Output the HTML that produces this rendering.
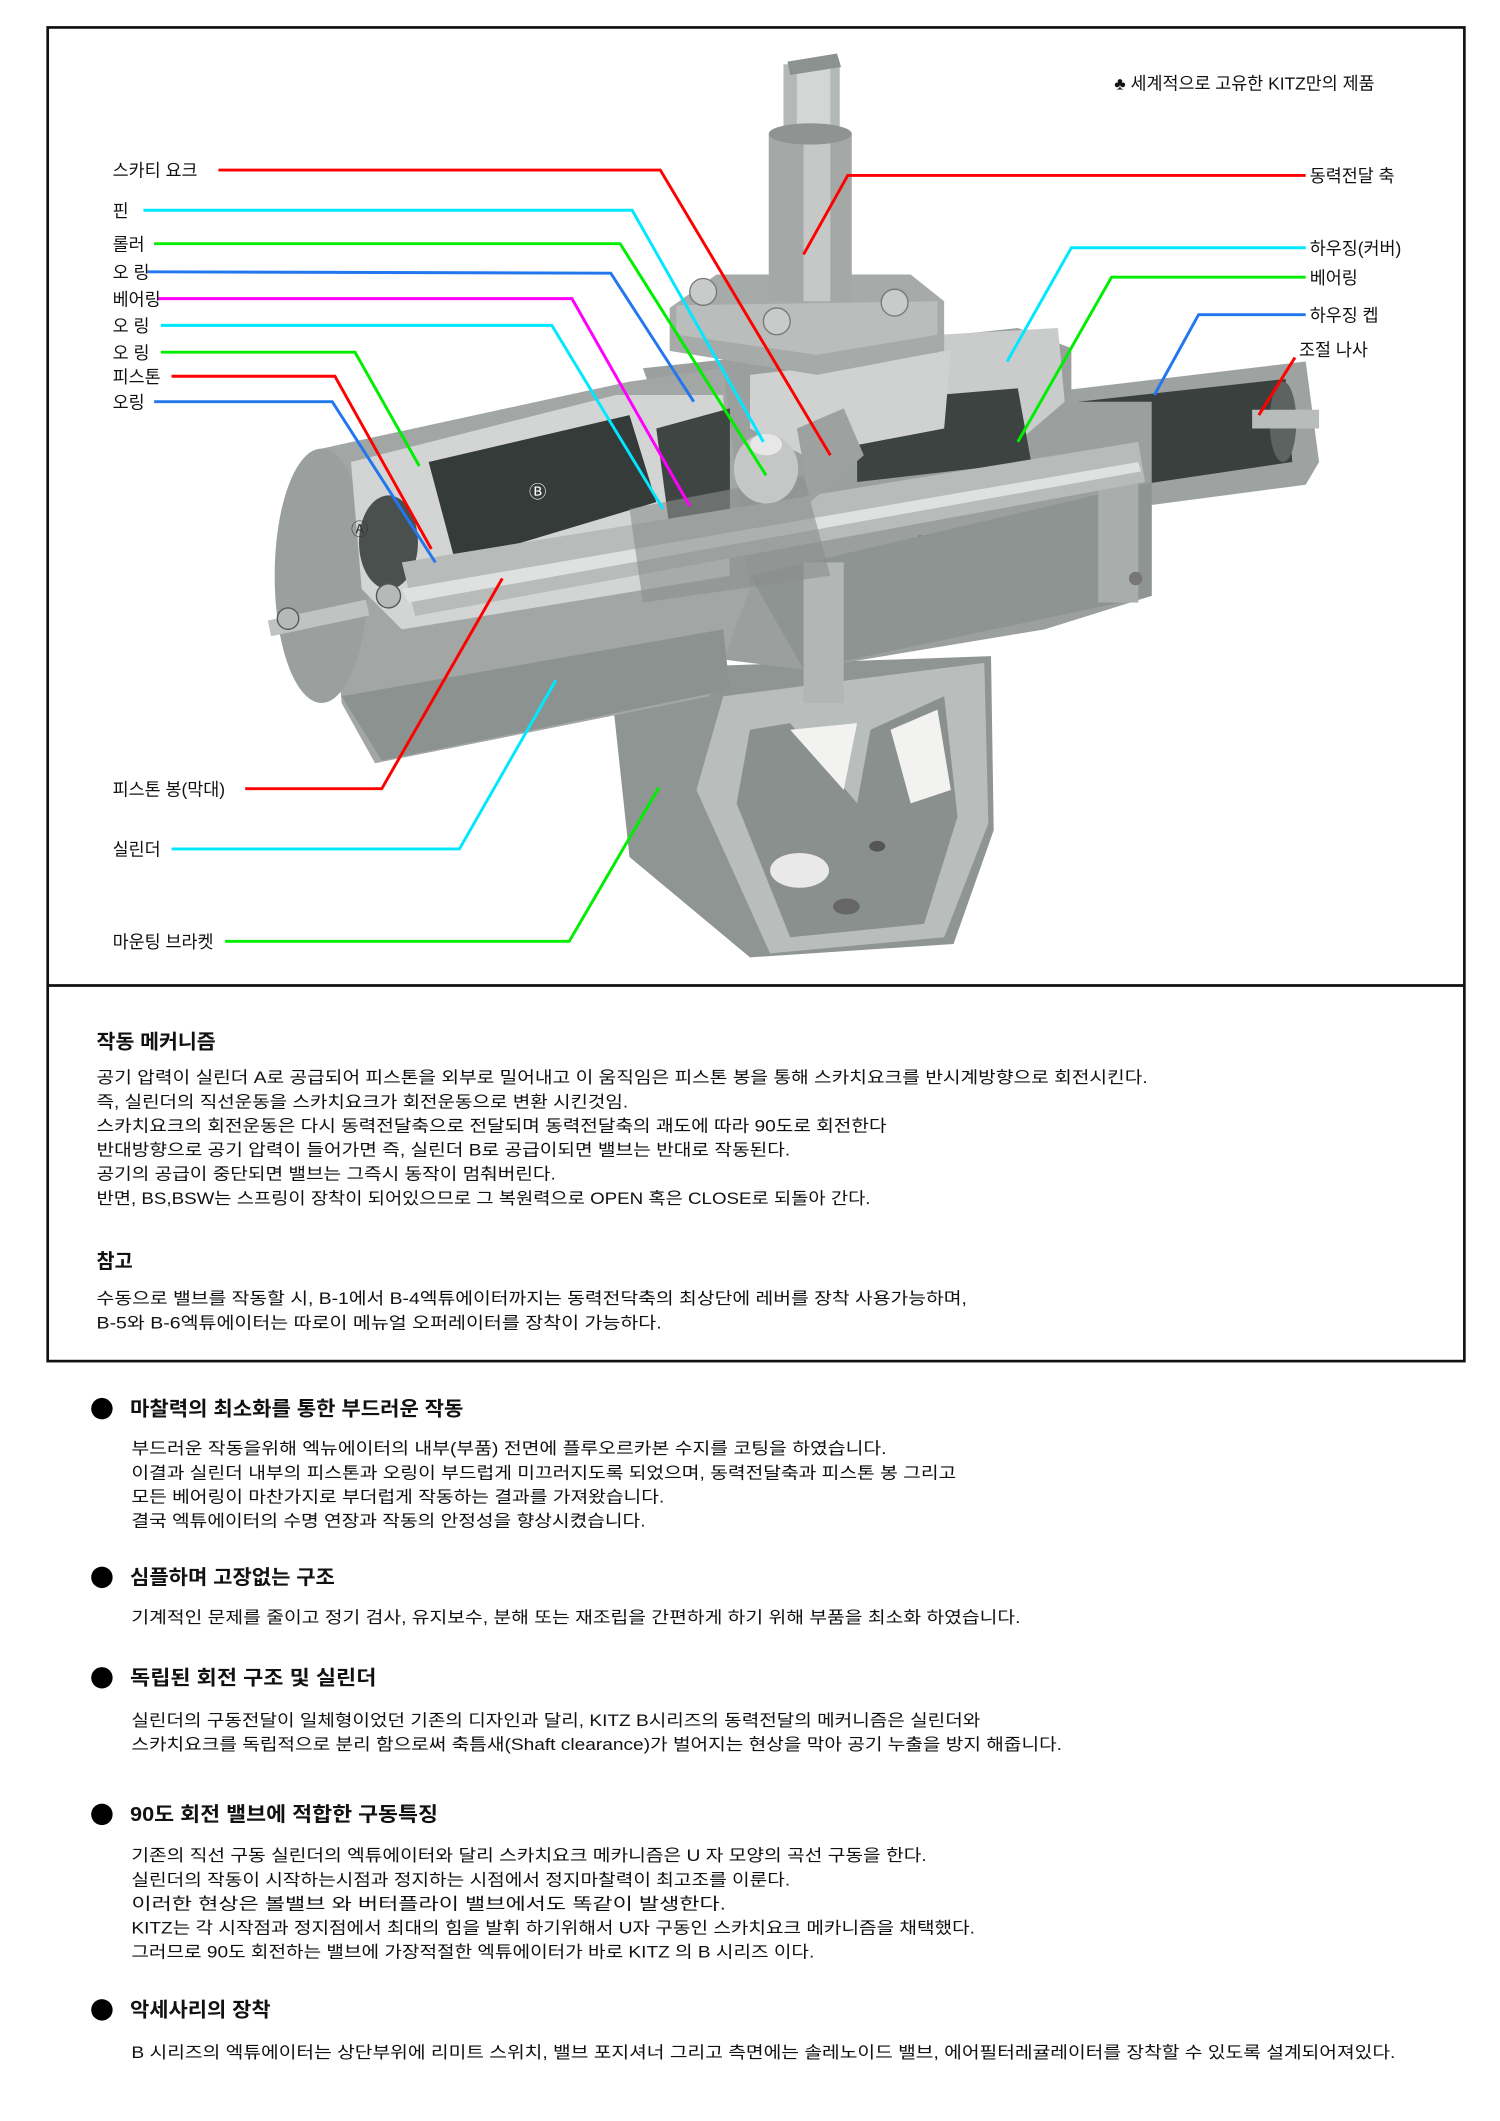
<!DOCTYPE html>
<html><head><meta charset="utf-8"><style>
html,body{margin:0;padding:0;background:#fff;}
svg{display:block;}
text{font-family:"Liberation Sans","Noto Sans CJK KR",sans-serif;fill:#111;}
.l{font-size:13px;}
.b{font-size:12.5px;}
.h{font-size:15px;font-weight:bold;}
.c line,.c polyline{fill:none;stroke-width:2.2;}
</style></head><body>
<svg width="1500" height="2121" viewBox="0 0 1120 1584" xmlns="http://www.w3.org/2000/svg">
<rect x="0" y="0" width="1120" height="1584" fill="#fff"/>
<rect x="35.5" y="20.5" width="1058" height="996" fill="none" stroke="#111" stroke-width="2"/>
<line x1="35" y1="736" x2="1094" y2="736" stroke="#111" stroke-width="2"/>

<g>
<!-- bracket -->
<polygon points="455,500 740,490 742,620 712,705 560,715 470,640" fill="#8f9593"/>
<polygon points="540,520 735,495 738,615 705,700 575,712 520,590" fill="#b9bdbb"/>
<polygon points="560,545 590,540 640,600 650,545 705,520 715,610 690,690 590,700 550,600" fill="#8a908e"/>
<polygon points="590,545 640,540 630,590" fill="#f2f2f0"/>
<polygon points="665,545 700,530 710,590 680,600" fill="#f2f2f0"/>
<ellipse cx="597" cy="650" rx="22" ry="13" fill="#e8e9e8"/>
<ellipse cx="655" cy="632" rx="6" ry="4" fill="#555"/>
<ellipse cx="632" cy="677" rx="10" ry="6" fill="#666"/>
<!-- right small cylinder -->
<polygon points="790,292 975,270 985,345 975,362 800,385" fill="#9ea3a1"/>
<polygon points="805,300 960,283 965,345 810,368" fill="#3a403e"/>
<ellipse cx="958" cy="315" rx="10" ry="30" fill="#5d6361"/>
<rect x="935" y="306" width="50" height="14" fill="#b8bcba"/>
<!-- central housing -->
<polygon points="480,275 760,245 800,260 800,300 860,300 860,445 780,470 600,500 520,490 500,330" fill="#9ba09e"/>
<polygon points="700,250 790,245 795,300 760,330 700,320" fill="#c9cccb"/>
<polygon points="640,300 760,290 770,345 640,360" fill="#3d4341"/>
<polygon points="560,280 710,262 705,320 600,340 560,320" fill="#cfd2d1"/>
<rect x="686" y="400" width="95" height="35" fill="#474d4b"/>
<polygon points="560,430 860,360 860,445 600,500" fill="#8e9492"/>
<rect x="600" y="420" width="30" height="105" fill="#b2b6b4"/>
<rect x="820" y="360" width="30" height="90" fill="#a9adab"/>
<!-- top cap + shaft -->
<polygon points="500,230 535,205 680,205 705,225 705,262 610,280 500,262" fill="#a6aaa8"/>
<polygon points="505,228 700,225 700,250 610,265 505,250" fill="#b9bdbb"/>
<rect x="574" y="100" width="62" height="125" fill="#a4a8a6"/>
<rect x="600" y="100" width="20" height="125" fill="#c5c8c7"/>
<rect x="585" y="48" width="42" height="58" fill="#b4b8b6"/>
<rect x="595" y="48" width="25" height="55" fill="#d4d6d5"/>
<polygon points="588,46 625,40 628,50 590,56" fill="#8c9290"/>
<ellipse cx="605" cy="100" rx="31" ry="8" fill="#8f9492"/>
<circle cx="525" cy="218" r="10" fill="#c8cbca" stroke="#777"/>
<circle cx="668" cy="226" r="10" fill="#c8cbca" stroke="#777"/>
<circle cx="580" cy="240" r="10" fill="#c8cbca" stroke="#777"/>
<!-- main cylinder -->
<polygon points="240,335 470,285 540,275 560,440 530,520 280,570 255,525" fill="#a2a7a5"/>
<polygon points="255,520 540,470 545,515 285,568" fill="#8c9290"/>
<ellipse cx="240" cy="430" rx="35" ry="95" fill="#9ba09e"/>
<polygon points="262,345 460,295 540,295 545,430 300,470 270,440" fill="#d2d5d4"/>
<polygon points="320,345 470,310 490,375 340,420" fill="#353b39"/>
<polygon points="490,320 545,305 545,400 500,395" fill="#3f4543"/>
<ellipse cx="290" cy="405" rx="22" ry="35" fill="#4a504e"/>
<polygon points="300,420 850,330 855,360 310,460" fill="#b7bbb9"/>
<polygon points="300,440 850,345 852,352 305,450" fill="#dfe1e0"/>
<polygon points="470,380 600,355 620,430 480,450" fill="#8a908e" opacity="0.6"/>
<ellipse cx="572" cy="350" rx="24" ry="26" fill="#c4c7c6"/>
<ellipse cx="572" cy="332" rx="12" ry="8" fill="#e6e7e6"/>
<polygon points="595,320 630,305 645,340 605,375" fill="#9da2a0"/>
<rect x="200" y="455" width="75" height="12" fill="#c0c3c2" transform="rotate(-12 240 460)"/>
<circle cx="215" cy="462" r="8" fill="#b5b9b7" stroke="#555"/>
<circle cx="290" cy="445" r="9" fill="#b5b9b7" stroke="#555"/>
<circle cx="848" cy="432" r="5" fill="#777"/>
<text x="395" y="372" style="font-size:13px;fill:#fff">Ⓑ</text>
<text x="262" y="400" style="font-size:13px;fill:#333">Ⓐ</text>
</g>

<g class="c">
<polyline stroke="#ff0000" points="163,127 493,127 620,340"/>
<polyline stroke="#00e8ff" points="107,157 472,157 570,330"/>
<polyline stroke="#00ee00" points="115,182 463,182 572,355"/>
<polyline stroke="#2277ee" points="110,203 456,204 518,300"/>
<polyline stroke="#ff00ff" points="118,223 427,223 515,378"/>
<polyline stroke="#00e8ff" points="120,243 412,243 495,380"/>
<polyline stroke="#00ee00" points="120,263 265,263 313,348"/>
<polyline stroke="#ff0000" points="128,281 250,281 322,410"/>
<polyline stroke="#2277ee" points="115,300 248,300 325,420"/>
<polyline stroke="#ff0000" points="975,131 633,131 600,190"/>
<polyline stroke="#00e8ff" points="975,185 800,185 752,270"/>
<polyline stroke="#00ee00" points="975,207 830,207 760,330"/>
<polyline stroke="#2277ee" points="975,235 895,235 862,295"/>
<polyline stroke="#ff0000" points="967,267 940,310"/>
<polyline stroke="#ff0000" points="183,589 285,589 375,432"/>
<polyline stroke="#00e8ff" points="128,634 343,634 415,508"/>
<polyline stroke="#00ee00" points="168,703 425,703 492,588"/>
</g>

<g class="l">
<text x="84" y="132">스카티 요크</text>
<text x="84" y="162">핀</text>
<text x="84" y="187">롤러</text>
<text x="84" y="208">오 링</text>
<text x="84" y="228">베어링</text>
<text x="84" y="248">오 링</text>
<text x="84" y="268">오 링</text>
<text x="84" y="286">피스톤</text>
<text x="84" y="305">오링</text>
<text x="832" y="67">♣ 세계적으로 고유한 KITZ만의 제품</text>
<text x="978" y="136">동력전달 축</text>
<text x="978" y="190">하우징(커버)</text>
<text x="978" y="212">베어링</text>
<text x="978" y="240">하우징 켑</text>
<text x="970" y="266">조절 나사</text>
<text x="84" y="594">피스톤 봉(막대)</text>
<text x="84" y="639">실린더</text>
<text x="84" y="708">마운팅 브라켓</text>
</g>

<text class="h" x="72" y="783" textLength="89" lengthAdjust="spacingAndGlyphs">작동 메커니즘</text>
<g class="b">
<text x="72" y="809" textLength="785" lengthAdjust="spacingAndGlyphs">공기 압력이 실린더 A로 공급되어 피스톤을 외부로 밀어내고 이 움직임은 피스톤 봉을 통해 스카치요크를 반시계방향으로 회전시킨다.</text>
<text x="72" y="827" textLength="397" lengthAdjust="spacingAndGlyphs">즉, 실린더의 직선운동을 스카치요크가 회전운동으로 변환 시킨것임.</text>
<text x="72" y="845" textLength="590" lengthAdjust="spacingAndGlyphs">스카치요크의 회전운동은 다시 동력전달축으로 전달되며 동력전달축의 괘도에 따라 90도로 회전한다</text>
<text x="72" y="863" textLength="518" lengthAdjust="spacingAndGlyphs">반대방향으로 공기 압력이 들어가면 즉, 실린더 B로 공급이되면 밸브는 반대로 작동된다.</text>
<text x="72" y="881" textLength="343" lengthAdjust="spacingAndGlyphs">공기의 공급이 중단되면 밸브는 그즉시 동작이 멈춰버린다.</text>
<text x="72" y="899" textLength="578" lengthAdjust="spacingAndGlyphs">반면, BS,BSW는 스프링이 장착이 되어있으므로 그 복원력으로 OPEN 혹은 CLOSE로 되돌아 간다.</text>
</g>
<text class="h" x="72" y="947" textLength="27" lengthAdjust="spacingAndGlyphs">참고</text>
<g class="b">
<text x="72" y="974" textLength="650" lengthAdjust="spacingAndGlyphs">수동으로 밸브를 작동할 시, B-1에서 B-4엑튜에이터까지는 동력전닥축의 최상단에 레버를 장착 사용가능하며,</text>
<text x="72" y="992" textLength="422" lengthAdjust="spacingAndGlyphs">B-5와 B-6엑튜에이터는  따로이 메뉴얼 오퍼레이터를 장착이 가능하다.</text>
</g>

<g fill="#000">
<circle cx="76" cy="1052" r="8"/>
<circle cx="76" cy="1178" r="8"/>
<circle cx="76" cy="1253" r="8"/>
<circle cx="76" cy="1355" r="8"/>
<circle cx="76" cy="1501" r="8"/>
</g>
<text class="h" x="97" y="1057" textLength="249" lengthAdjust="spacingAndGlyphs">마찰력의 최소화를 통한 부드러운 작동</text>
<g class="b">
<text x="98" y="1086" textLength="564" lengthAdjust="spacingAndGlyphs">부드러운 작동을위해 엑뉴에이터의 내부(부품) 전면에  플루오르카본 수지를 코팅을 하였습니다.</text>
<text x="98" y="1104" textLength="616" lengthAdjust="spacingAndGlyphs">이결과 실린더 내부의 피스톤과 오링이 부드럽게 미끄러지도록 되었으며, 동력전달축과 피스톤 봉 그리고</text>
<text x="98" y="1122" textLength="398" lengthAdjust="spacingAndGlyphs">모든 베어링이 마찬가지로 부더럽게 작동하는 결과를 가져왔습니다.</text>
<text x="98" y="1140" textLength="384" lengthAdjust="spacingAndGlyphs">결국 엑튜에이터의 수명 연장과 작동의 안정성을 향상시켰습니다.</text>
</g>
<text class="h" x="97" y="1183" textLength="153" lengthAdjust="spacingAndGlyphs">심플하며 고장없는 구조</text>
<text class="b" x="98" y="1212" textLength="664" lengthAdjust="spacingAndGlyphs">기계적인 문제를 줄이고 정기 검사, 유지보수, 분해 또는 재조립을 간편하게 하기 위해 부품을 최소화 하였습니다.</text>
<text class="h" x="97" y="1258" textLength="184" lengthAdjust="spacingAndGlyphs">독립된 회전 구조 및 실린더</text>
<g class="b">
<text x="98" y="1289" textLength="634" lengthAdjust="spacingAndGlyphs">실린더의 구동전달이 일체형이었던 기존의 디자인과 달리, KITZ B시리즈의 동력전달의 메커니즘은 실린더와</text>
<text x="98" y="1307" textLength="695" lengthAdjust="spacingAndGlyphs">스카치요크를 독립적으로 분리 함으로써 축틈새(Shaft clearance)가 벌어지는 현상을 막아 공기 누출을 방지 해줍니다.</text>
</g>
<text class="h" x="97" y="1360" textLength="230" lengthAdjust="spacingAndGlyphs">90도 회전 밸브에 적합한 구동특징</text>
<g class="b">
<text x="98" y="1390" textLength="594" lengthAdjust="spacingAndGlyphs">기존의 직선 구동 실린더의 엑튜에이터와 달리 스카치요크 메카니즘은 U 자 모양의 곡선 구동을 한다.</text>
<text x="98" y="1408" textLength="492" lengthAdjust="spacingAndGlyphs">실린더의 작동이 시작하는시점과 정지하는 시점에서 정지마찰력이 최고조를 이룬다.</text>
<text x="98" y="1426" textLength="444" lengthAdjust="spacingAndGlyphs">이러한 현상은 볼밸브 와 버터플라이 밸브에서도 똑같이 발생한다.</text>
<text x="98" y="1444" textLength="630" lengthAdjust="spacingAndGlyphs">KITZ는 각 시작점과 정지점에서 최대의 힘을 발휘 하기위해서 U자 구동인 스카치요크 메카니즘을 채택했다.</text>
<text x="98" y="1462" textLength="510" lengthAdjust="spacingAndGlyphs">그러므로 90도 회전하는 밸브에 가장적절한 엑튜에이터가 바로 KITZ 의 B 시리즈 이다.</text>
</g>
<text class="h" x="97" y="1506" textLength="105" lengthAdjust="spacingAndGlyphs">악세사리의 장착</text>
<text class="b" x="98" y="1537" textLength="944" lengthAdjust="spacingAndGlyphs">B 시리즈의 엑튜에이터는 상단부위에 리미트 스위치, 밸브 포지셔너 그리고 측면에는 솔레노이드 밸브, 에어필터레귤레이터를 장착할 수 있도록 설계되어져있다.</text>
</svg>
</body></html>
